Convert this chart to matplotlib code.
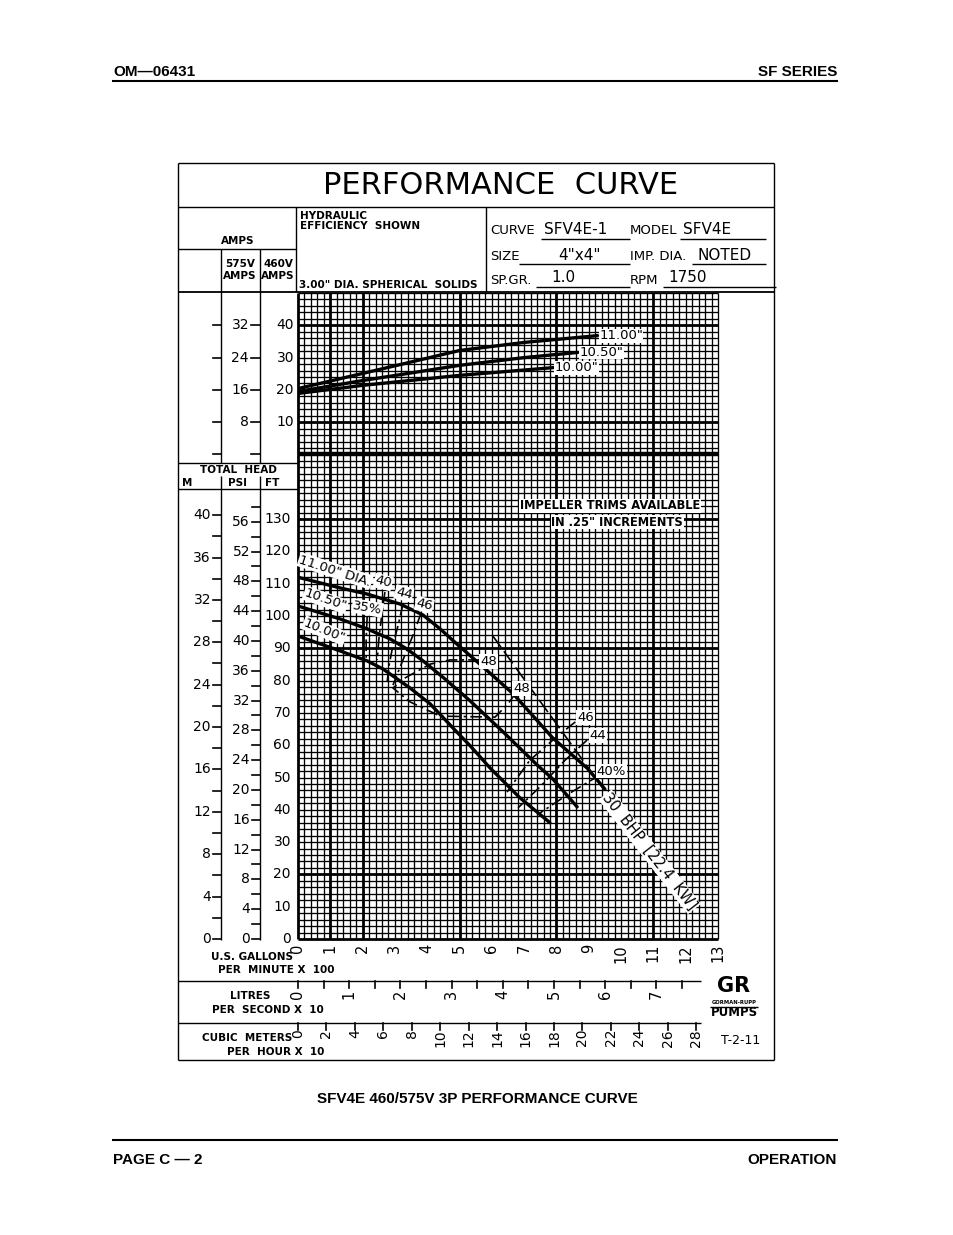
import matplotlib
matplotlib.use("Agg")
import matplotlib.pyplot as plt
import numpy as np
from matplotlib.transforms import blended_transform_factory as btf

# ---------------- data ----------------
gpm_ticks = list(range(0, 14))            # US GPM x 100
lps_ticks = [v * 0.5 for v in range(0, 16)]   # L/s x 10 (labels at integers)
m3h_ticks = list(range(0, 29, 2))         # m3/h x 10
ft_ticks = list(range(0, 131, 10))
psi_ticks = list(range(0, 59, 2))
m_ticks = list(range(0, 41, 2))
amps460_ticks = [10, 20, 30, 40]
amps575_ticks = [0, 8, 16, 24, 32]

dia_labels = ['11.00"', '10.50"', '10.00"']

# head curves  (flow in GPM/100, head in ft)
q_1100 = [0, 1.30, 2.14, 3.16, 3.87, 4.40, 4.92, 5.63, 6.66, 7.89, 8.95, 9.50]
h_1100 = [112, 108.7, 106.8, 103.7, 100.3, 96.0, 91.3, 85.1, 75.9, 62.2, 52.9, 46.4]
q_1050 = [0, 1.30, 2.14, 2.85, 3.37, 3.87, 4.55, 5.33, 6.35, 7.40, 7.89, 8.64]
h_1050 = [103.1, 99.1, 96.0, 92.9, 89.8, 86.1, 80.5, 73.7, 64.1, 53.9, 49.5, 40.9]
q_1000 = [0, 1.30, 2.14, 2.63, 3.07, 3.47, 4.09, 4.80, 5.33, 5.94, 6.87, 7.80]
h_1000 = [93.8, 89.2, 86.1, 83.6, 80.5, 77.7, 72.8, 65.3, 59.8, 53.0, 43.7, 36.0]

# amps curves (460 V)
aq_1100 = [0, 2.0, 3.44, 5.0, 7.0, 9.27]
amps_1100 = [20.4, 25.1, 28.5, 32.2, 34.7, 36.8]
aq_1050 = [0, 2.0, 5.0, 7.0, 8.66]
amps_1050 = [19.5, 22.9, 27.6, 30.0, 31.6]
aq_1000 = [0, 2.0, 5.0, 7.9]
amps_1000 = [18.9, 21.4, 24.5, 26.9]

# efficiency contours
eff35_q = [2.14, 2.11, 2.11]
eff35_h = [99.7, 92.6, 85.8]
eff40L_q = [2.69, 2.60, 2.51, 2.45]
eff40L_h = [107.4, 100.9, 93.5, 86.4]
eff44L_q = [3.25, 3.10, 2.94, 2.82, 2.76]
eff44L_h = [103.7, 97.2, 91.0, 84.8, 79.6]
eff46L_q = [3.81, 3.56, 3.31, 3.10, 2.94]
eff46L_h = [100.9, 94.1, 87.9, 82.7, 78.6]
eff48_q = [5.63, 4.71, 4.09, 3.31, 2.94, 3.47, 4.40, 6.10, 6.50, 6.81]
eff48_h = [86.4, 86.4, 85.1, 80.8, 77.7, 73.4, 69.0, 68.7, 72.8, 77.1]
eff46R_q = [8.58, 7.96, 7.18, 6.47]
eff46R_h = [67.2, 62.2, 55.4, 45.5]
eff44R_q = [8.95, 8.27, 7.49, 6.81]
eff44R_h = [61.6, 55.4, 47.1, 40.6]
eff40R_q = [9.35, 8.42, 7.40]
eff40R_h = [50.8, 45.2, 38.4]
bhp30_q = [6.01, 9.44]
bhp30_h = [94.1, 46.7]

FT_PER_M = 3.2808
FT_PER_PSI = 2.3067
GPM_PER_LPS = 15.850
GPM_PER_M3H = 4.4029
AMP_575_TO_460 = 1 / 0.8

# ---------------- figure ----------------
W, H = 954, 1235
fig = plt.figure(figsize=(W / 100, H / 100), dpi=100)
fig.patch.set_facecolor('white')

GX0, GX1 = 298, 718
GY0, GY1 = 939, 293
ax = fig.add_axes([GX0 / W, 1 - GY0 / H, (GX1 - GX0) / W, (GY0 - GY1) / H])
ax.set_xlim(0, 13)
ax.set_ylim(0, 200)
ax.axis('off')

lay = fig.add_axes([0, 0, 1, 1], zorder=5)
lay.set_xlim(0, W)
lay.set_ylim(H, 0)
lay.axis('off')

K = 'black'
LIGHT = dict(family=['DejaVu Sans'], fontweight='normal')
BOLDS = dict(family=['DejaVu Sans'], fontweight='bold')
PAGE = dict(family=['Liberation Sans', 'DejaVu Sans'], fontweight='bold')

# ---------------- grid ----------------
BOLD_X = [0, 1, 2, 5, 8, 11]
BOLD_Y = [0, 20, 90, 130, 160, 190]
for xv in np.round(np.arange(0, 13.0001, 0.2), 3):
    lw = 2.0 if any(abs(xv - b) < 1e-6 for b in BOLD_X) else 0.95
    ax.plot([xv, xv], [0, 200], color=K, lw=lw, zorder=1, clip_on=False,
            solid_capstyle='butt')
for yv in np.arange(0, 201, 2):
    lw = 2.0 if yv in BOLD_Y else 0.95
    if yv == 150:
        lw = 3.2
    ax.plot([0, 13], [yv, yv], color=K, lw=lw, zorder=1, clip_on=False,
            solid_capstyle='butt')

# ---------------- curves ----------------
for q, h in [(q_1100, h_1100), (q_1050, h_1050), (q_1000, h_1000)]:
    ax.plot(q, h, color=K, lw=2.4, zorder=3, solid_capstyle='round',
            solid_joinstyle='round')
for q, a in [(aq_1100, amps_1100), (aq_1050, amps_1050), (aq_1000, amps_1000)]:
    ax.plot(q, [150 + v for v in a], color=K, lw=2.4, zorder=3,
            solid_capstyle='round', solid_joinstyle='round')

effstyle = dict(color=K, lw=1.2, zorder=2.5, linestyle=(0, (7, 2.5, 1.5, 2.5)))
for q, h in [(eff35_q, eff35_h), (eff40L_q, eff40L_h), (eff44L_q, eff44L_h),
             (eff46L_q, eff46L_h), (eff48_q, eff48_h), (eff46R_q, eff46R_h),
             (eff44R_q, eff44R_h), (eff40R_q, eff40R_h)]:
    ax.plot(q, h, **effstyle)
ax.plot(bhp30_q, bhp30_h, color=K, lw=1.2, zorder=2.5, linestyle=(0, (9, 3)))

wb = dict(fc='white', ec='none', pad=0.6)


def lab(x, y, s, rot=0, fs=9.5, ha='center', va='center'):
    ax.text(x, y, s, rotation=rot, fontsize=fs, ha=ha, va=va, bbox=wb,
            zorder=4, rotation_mode='anchor', **LIGHT)


lab(1.15, 114.0, dia_labels[0] + ' DIA.', rot=-18)
lab(0.85, 105.0, dia_labels[1], rot=-19)
lab(2.15, 102.5, '35%', rot=-10)
lab(0.82, 95.5, dia_labels[2], rot=-22)
lab(2.64, 110.5, '40', rot=-14)
lab(3.28, 107.0, '44', rot=-14)
lab(3.91, 103.5, '46', rot=-14)
lab(5.90, 86.0, '48')
lab(6.92, 77.5, '48')
lab(8.90, 68.5, '46')
lab(9.28, 63.0, '44')
lab(9.70, 52.0, '40%')
ax.text(9.52, 44.5, '30  BHP  [22.4  KW]', rotation=-52, fontsize=10.5,
        ha='left', va='center', rotation_mode='anchor', bbox=wb, zorder=4, **LIGHT)
for q, a, s in [(aq_1100, amps_1100, dia_labels[0]), (aq_1050, amps_1050, dia_labels[1]),
                (aq_1000, amps_1000, dia_labels[2])]:
    ax.text(q[-1] + 0.05, 150 + a[-1], s, fontsize=9.5, ha='left', va='center',
            bbox=dict(fc='white', ec='none', pad=0.3), zorder=4, **LIGHT)
ax.text(9.66, 134.1, 'IMPELLER TRIMS AVAILABLE', fontsize=8.3,
        ha='center', va='center', bbox=dict(fc='white', ec='none', pad=0.5),
        zorder=4, **BOLDS)
ax.text(9.88, 129.1, 'IN .25" INCREMENTS', fontsize=8.3,
        ha='center', va='center', bbox=dict(fc='white', ec='none', pad=0.5),
        zorder=4, **BOLDS)

# ---------------- frame / layout lines ----------------
def hl(y, x0, x1, lw=1.0):
    lay.plot([x0, x1], [y, y], color=K, lw=lw, solid_capstyle='butt')


def vl(x, y0, y1, lw=1.0):
    lay.plot([x, x], [y0, y1], color=K, lw=lw, solid_capstyle='butt')


hl(163, 178, 774); hl(1060, 178, 774); vl(178, 163, 1060); vl(774, 163, 1060)
hl(207, 178, 774)
hl(292, 178, 774, lw=1.3)
vl(296, 207, 292); vl(486, 207, 292)
hl(249, 178, 296)
vl(221, 249, 463); vl(260, 249, 463)
hl(463, 178, 298)
hl(489, 178, 298)
vl(221, 476, 940); vl(260, 476, 940)
hl(981, 178, 701); hl(1023, 178, 701)

# page header/footer
hl(81, 112, 838, lw=1.5)
hl(1140, 112, 838, lw=1.5)
lay.text(113, 72, 'OM\u201406431', fontsize=11, ha='left', va='center', **PAGE)
lay.text(837, 72, 'SF SERIES', fontsize=11, ha='right', va='center', **PAGE)
lay.text(113, 1160, 'PAGE C \u2014 2', fontsize=11, ha='left', va='center', **PAGE)
lay.text(837, 1160, 'OPERATION', fontsize=11, ha='right', va='center', **PAGE)
lay.text(477, 1099, 'SFV4E 460/575V 3P PERFORMANCE CURVE', fontsize=11, ha='center',
         va='center', **PAGE)

# title
lay.text(501, 186, 'PERFORMANCE  CURVE', fontsize=22, ha='center', va='center', **LIGHT)

# header texts
lay.text(238, 241, 'AMPS', fontsize=7.5, ha='center', va='center', **BOLDS)
lay.text(240, 270, '575V\nAMPS', fontsize=7.5, ha='center', va='center', linespacing=1.15, **BOLDS)
lay.text(278, 270, '460V\nAMPS', fontsize=7.5, ha='center', va='center', linespacing=1.15, **BOLDS)
lay.text(300, 221, 'HYDRAULIC\nEFFICIENCY  SHOWN', fontsize=7.5, ha='left', va='center',
         linespacing=1.05, **BOLDS)
lay.text(299, 285, '3.00" DIA. SPHERICAL  SOLIDS', fontsize=7.5, ha='left', va='center', **BOLDS)

lay.text(490, 231, 'CURVE', fontsize=9.5, ha='left', va='center', **LIGHT)
lay.text(544, 230, 'SFV4E-1', fontsize=11, ha='left', va='center', **LIGHT)
lay.text(630, 231, 'MODEL', fontsize=9.5, ha='left', va='center', **LIGHT)
lay.text(683, 230, 'SFV4E', fontsize=11, ha='left', va='center', **LIGHT)
hl(239, 541, 630); hl(239, 680, 766)
lay.text(490, 257, 'SIZE', fontsize=9.5, ha='left', va='center', **LIGHT)
lay.text(558, 256, '4"x4"', fontsize=11, ha='left', va='center', **LIGHT)
lay.text(630, 257, 'IMP. DIA.', fontsize=9.5, ha='left', va='center', **LIGHT)
lay.text(698, 256, 'NOTED', fontsize=11, ha='left', va='center', **LIGHT)
hl(264, 519, 630); hl(264, 692, 766)
lay.text(490, 280, 'SP.GR.', fontsize=9.5, ha='left', va='center', **LIGHT)
lay.text(551, 278, '1.0', fontsize=11, ha='left', va='center', **LIGHT)
lay.text(630, 280, 'RPM', fontsize=9.5, ha='left', va='center', **LIGHT)
lay.text(668, 278, '1750', fontsize=11, ha='left', va='center', **LIGHT)
hl(287, 536, 630); hl(287, 663, 776)

# total head header
lay.text(238, 470, 'TOTAL  HEAD', fontsize=7.5, ha='center', va='center', **BOLDS)
lay.text(187, 483, 'M', fontsize=7.5, ha='center', va='center', **BOLDS)
lay.text(238, 483, 'PSI', fontsize=7.5, ha='center', va='center', **BOLDS)
lay.text(272, 483, 'FT', fontsize=7.5, ha='center', va='center', **BOLDS)

# ---------------- secondary scales ----------------
tY = btf(lay.transData, ax.transData)   # x in px, y in ft
tX = btf(ax.transData, lay.transData)   # x in GPM/100, y in px
NUM = dict(fontsize=10, **LIGHT)

for m in m_ticks:
    y = m * FT_PER_M
    lay.plot([213, 221], [y, y], color=K, lw=1.2, transform=tY, clip_on=False)
    if m % 4 == 0:
        lay.text(211, y, str(m), transform=tY, ha='right', va='center', **NUM)
for p in psi_ticks:
    y = p * FT_PER_PSI
    lay.plot([252, 260], [y, y], color=K, lw=1.2, transform=tY, clip_on=False)
    if p % 4 == 0 and p <= 56:
        lay.text(250, y, str(p), transform=tY, ha='right', va='center', **NUM)
for f in ft_ticks:
    lay.text(291, f, str(f), transform=tY, ha='right', va='center', **NUM)

for a in amps575_ticks:
    y = 150 + a * AMP_575_TO_460
    lay.plot([213, 221], [y, y], color=K, lw=1.2, transform=tY, clip_on=False)
    lay.plot([251, 260], [y, y], color=K, lw=1.2, transform=tY, clip_on=False)
    if a > 0:
        lay.text(249, y, str(a), transform=tY, ha='right', va='center', **NUM)
for a in amps460_ticks:
    lay.text(294, 150 + a, str(a), transform=tY, ha='right', va='center', **NUM)

for g in gpm_ticks:
    lay.text(g, 944, str(g), transform=tX, rotation=90, ha='center', va='top', fontsize=10.5,
             **LIGHT)
lay.text(252, 957, 'U.S. GALLONS', fontsize=7.5, ha='center', va='center', **BOLDS)
lay.text(276, 970, 'PER  MINUTE X  100', fontsize=7.5, ha='center', va='center', **BOLDS)

for v in lps_ticks:
    x = v * 10 * GPM_PER_LPS / 100
    lay.plot([x, x], [981, 988], color=K, lw=1.2, transform=tX, clip_on=False)
    if float(v).is_integer():
        lay.text(x, 990, str(int(v)), transform=tX, rotation=90, ha='center', va='top',
                 fontsize=10.5, **LIGHT)
lay.text(250, 996, 'LITRES', fontsize=7.5, ha='center', va='center', **BOLDS)
lay.text(268, 1010, 'PER  SECOND X  10', fontsize=7.5, ha='center', va='center', **BOLDS)

for v in m3h_ticks:
    x = v * 10 * GPM_PER_M3H / 100
    lay.plot([x, x], [1023, 1030], color=K, lw=1.2, transform=tX, clip_on=False)
    lay.text(x, 1029, str(v), transform=tX, rotation=90, ha='center', va='top', **NUM)
lay.text(247, 1038, 'CUBIC  METERS', fontsize=7.5, ha='center', va='center', **BOLDS)
lay.text(276, 1052, 'PER  HOUR X  10', fontsize=7.5, ha='center', va='center', **BOLDS)
lay.text(741, 1040, 'T-2-11', fontsize=9, ha='center', va='center', **LIGHT)

# logo
lay.text(734, 986, 'GR', fontsize=15, ha='center', va='center',
         family=['DejaVu Sans'], fontweight='heavy')
lay.text(734, 1003, 'GORMAN-RUPP', fontsize=3.8, ha='center', va='center', **BOLDS)
hl(1007, 710, 758, lw=1.0)
lay.text(734, 1013, 'PUMPS', fontsize=8.5, ha='center', va='center', **BOLDS)

fig.savefig('out.png', dpi=100, facecolor='white')
